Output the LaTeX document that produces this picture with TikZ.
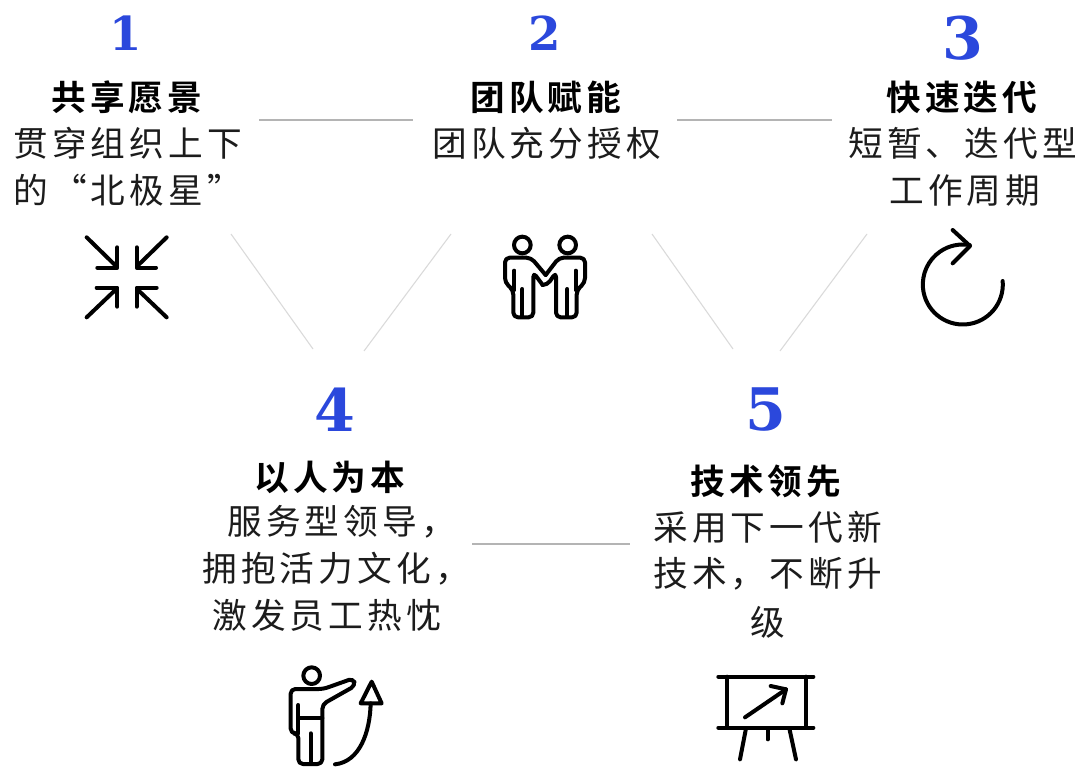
\documentclass[tikz,border=0pt]{standalone}
\usepackage{fontspec}
\newfontfamily\cjkbody[LetterSpace=12]{Noto Sans CJK SC}
\newfontfamily\cjktitle[LetterSpace=12,BoldFont={Noto Sans CJK SC Bold}]{Noto Sans CJK SC}
\newfontfamily\numfont{DejaVu Serif}
\definecolor{ink}{HTML}{1C1C1C}
\definecolor{numblue}{HTML}{2B48DC}
\definecolor{rule}{HTML}{B4B4B4}
\definecolor{rulelight}{HTML}{DADADA}
\tikzset{
  bodytext/.style={anchor=base west,inner sep=0pt,text=ink,font=\fontsize{26}{30}\selectfont\cjkbody},
  titletext/.style={anchor=base west,inner sep=0pt,text=black,font=\fontsize{26}{30}\selectfont\cjktitle\bfseries},
  numsmall/.style={inner sep=0pt,text=numblue,font=\fontsize{35}{40}\selectfont\numfont\bfseries},
  numbig/.style={inner sep=0pt,text=numblue,font=\fontsize{44}{50}\selectfont\numfont\bfseries},
  hrule/.style={draw=rule,line width=0.8pt},
  drule/.style={draw=rulelight,line width=0.8pt},
  icon/.style={x=0.25pt,y=-0.25pt,draw=black,line width=3pt,line cap=round,line join=round},
}
\begin{document}
\begin{tikzpicture}[x=0.75pt,y=-0.75pt]
\useasboundingbox[fill=white] (0,0) rectangle (1081,767);
\clip (0,0) rectangle (1081,767);
% numbers
\node[numsmall] (n1) at (126,33) {1};
\node[numsmall] (n2) at (545,33) {2};
\node[numbig] (n3) at (963,38) {3};
\node[numbig] (n4) at (335,410) {4};
\node[numbig] (n5) at (766,410) {5};
% titles
\node[titletext] (t1) at (51,110) {共享愿景};
\node[titletext] (t2) at (470,110) {团队赋能};
\node[titletext] (t3) at (886,110) {快速迭代};
\node[titletext] (t4) at (254,490) {以人为本};
\node[titletext] (t5) at (690,494) {技术领先};
% bodies
\node[bodytext] (b11) at (13,156) {贯穿组织上下};
\node[bodytext] (b12) at (13,203) {的“北极星”};
\node[bodytext] (b21) at (432,156) {团队充分授权};
\node[bodytext] (b31) at (848,156) {短暂、迭代型};
\node[bodytext] (b32) at (889,203) {工作周期};
\node[bodytext] (b41) at (227,534) {服务型领导，};
\node[bodytext] (b42) at (202,581) {拥抱活力文化，};
\node[bodytext] (b43) at (212,628) {激发员工热忱};
\node[bodytext] (b51) at (653,540) {采用下一代新};
\node[bodytext] (b52) at (653,586) {技术，不断升};
\node[bodytext] (b53) at (750,635) {级};
% connector ends
\coordinate (h1a) at (259,120); \coordinate (h1b) at (413,120);
\coordinate (h2a) at (677,120); \coordinate (h2b) at (832,120);
\coordinate (h3a) at (472,544); \coordinate (h3b) at (630,544);
\coordinate (d1a) at (231,234); \coordinate (d1b) at (313,349);
\coordinate (d2a) at (451,234); \coordinate (d2b) at (364,351);
\coordinate (d3a) at (652,234); \coordinate (d3b) at (733,349);
\coordinate (d4a) at (867,234); \coordinate (d4b) at (780,351);
\draw[hrule] (h1a) -- (h1b);
\draw[hrule] (h2a) -- (h2b);
\draw[hrule] (h3a) -- (h3b);
\draw[drule] (d1a) -- (d1b);
\draw[drule] (d2a) -- (d2b);
\draw[drule] (d3a) -- (d3b);
\draw[drule] (d4a) -- (d4b);
% icon 1: converging arrows
\begin{scope}[shift={(60,220)},icon]
\draw (80,52) -- (168,138);
\draw (172,82) -- (172,143) -- (112,143);
\draw (320,52) -- (232,138);
\draw (230,82) -- (230,143) -- (288,143);
\draw (80,292) -- (168,208);
\draw (110,203) -- (172,203) -- (172,260);
\draw (320,292) -- (232,208);
\draw (290,203) -- (230,203) -- (230,260);
\end{scope}
% icon 2: two people
\begin{scope}[shift={(480,220)},icon]
\draw (127,75) circle[radius=25];
\draw (263,75) circle[radius=25];
\draw[rounded corners=3.5pt] (197,165) -- (153,113) -- (75,113) -- (75,188) -- (100,210) -- (100,292) -- (160,292) -- (160,157) -- (188,195);
\draw[rounded corners=3.5pt] (197,165) -- (237,113) -- (315,113) -- (315,188) -- (290,210) -- (290,292) -- (228,292) -- (228,157) -- (202,195) -- (188,195);
\draw (103,152) -- (103,210);
\draw (127,207) -- (127,290);
\draw (287,152) -- (287,210);
\draw (262,207) -- (262,290);
\end{scope}
% icon 3: cycle arrow
\begin{scope}[shift={(900,220)},icon]
\draw (308,183) arc[start angle=-5,end angle=280,radius=120];
\draw (158,30) -- (210,78) -- (158,130);
\end{scope}
% icon 4: person pointing with arrow
\begin{scope}[shift={(270,655)},icon]
\draw (125,62) circle[radius=25];
\draw[rounded corners=3.5pt] (157,190) -- (157,148) -- (256,92) -- (250,70) -- (160,102) -- (62,102) -- (62,235) -- (85,235) -- (85,327) -- (157,327) -- cycle;
\draw (85,150) -- (85,235);
\draw (122,235) -- (122,325);
\draw (85,190) -- (157,190);
\draw (195,328) .. controls (270,320) and (300,230) .. (302,145);
\draw (305,80) -- (272,145) -- (335,145) -- cycle;
\end{scope}
% icon 5: presentation board
\begin{scope}[shift={(700,660)},icon]
\draw (55,50) -- (340,50);
\draw (55,203) -- (340,203);
\draw (82,50) -- (82,203);
\draw (318,50) -- (318,203);
\draw (135,172) -- (258,88);
\draw (212,78) -- (258,88) -- (247,130);
\draw (138,205) -- (120,298);
\draw (203,205) -- (203,238);
\draw (268,205) -- (288,298);
\end{scope}
\end{tikzpicture}
\end{document}
